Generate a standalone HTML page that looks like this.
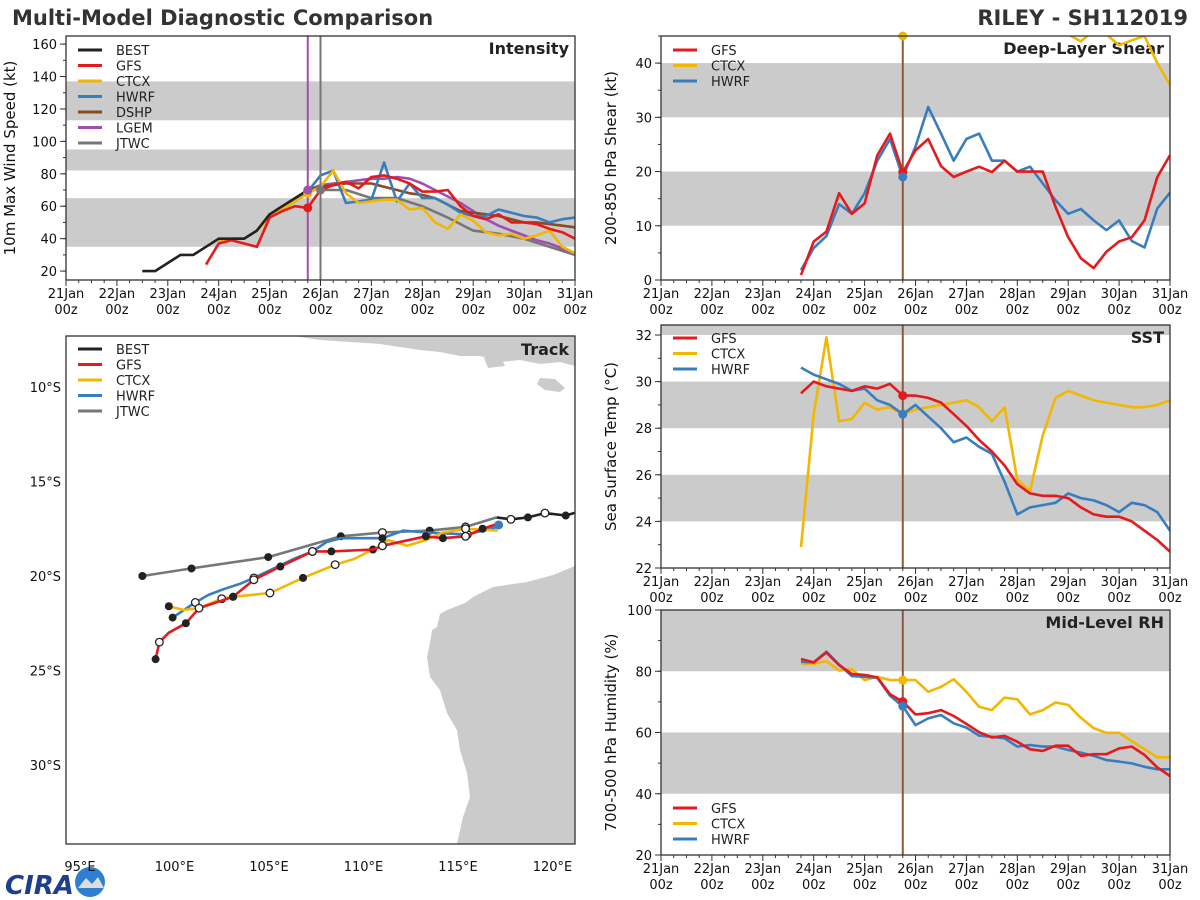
<!DOCTYPE html>
<html><head><meta charset="utf-8"><style>
html,body{margin:0;padding:0;background:#fff;}
svg{display:block;font-family:"DejaVu Sans","Liberation Sans",sans-serif;}
</style></head><body>
<svg id="chart" width="1200" height="900" viewBox="0 0 1200 900" xmlns="http://www.w3.org/2000/svg">
<text x="12" y="25" font-size="21" font-weight="bold" fill="#333">Multi-Model Diagnostic Comparison</text>
<text x="1188" y="25" font-size="21" font-weight="bold" fill="#333" text-anchor="end">RILEY - SH112019</text>
<g>
<text x="5" y="894" font-size="26" font-weight="bold" fill="#1e3f8a" font-style="italic">CIRA</text>
<circle cx="90" cy="882" r="15" fill="#2f7fd0"/>
<path d="M78 888 L86 878 L92 884 L98 877 L104 888 Z" fill="#ddd"/>
</g>
<g id="plots"></g>
</svg>
<script>
// ---------- DATA ----------
var intBestStart = 36;
var intBest = [20,20,25,30,30,35,40,40,40,45,55,60,65,70];
var intGfsStart = 66;
var intGfs = [24,37,39,37,35,53,57,60,59,70,73,75,71,78,79,77,74,69,69,70,60,54,52,55,50,50,49,46,44,40];
var intCtcxStart = 72;
var intCtcx = [38,40,40,45,53,58,63,68,72,82,68,62,63,64,64,58,59,50,46,55,51,44,42,43,40,42,45,35,31];
var intHwrfStart = 72;
var intHwrf = [38,40,40,45,54,58,63,69,79,82,62,63,64,87,63,74,65,65,61,56,54,54,58,56,54,53,50,52,53];
var intDshpStart = 114;
var intDshp = [70,72,73,74,74,74,72,70,68,67,65,61,57,56,55,54,52,50,50,49,48,47];
var intLgemStart = 114;
var intLgem = [70,73,74,75,76,77,77,78,77,74,70,66,62,57,52,48,45,42,39,37,34,31];
var intJtwcTimes = [120,132,144,156,168,180,192,204,216,240];
var intJtwc = [70,70,65,65,60,53,45,43,40,30];

var diagStart = 66;
var shearGfs = [0.9,7.1,8.9,16,12.2,14.1,23,27,19.9,23.9,26,21,19,20,20.9,19.9,22,20,20,20,13.5,7.9,4,2.2,5.2,7.1,7.9,11,19,23];
var shearHwrf = [1.8,5.9,8.1,14,12.2,16,22,26,19,24.6,31.9,27,22,26,27,22,22,20,20.9,17.8,14.7,12.2,13.1,11,9.2,11,7.2,6,13.2,16.1];
var shearCtcx = [55,58,60,57,55,53,52,50,45,50,55,58,60,62,60,58,55,53,50,48,47,45.3,44,46,45.3,43.3,44.2,45,40,36];
var sstGfs = [29.5,30.0,29.8,29.7,29.6,29.8,29.7,29.9,29.4,29.4,29.3,29.1,28.6,28.1,27.5,27.0,26.4,25.6,25.2,25.1,25.1,25.0,24.6,24.3,24.2,24.2,24.0,23.6,23.2,22.7];
var sstHwrf = [30.6,30.3,30.1,29.9,29.6,29.7,29.2,29.0,28.6,29.0,28.5,28.0,27.4,27.6,27.2,26.9,25.7,24.3,24.6,24.7,24.8,25.2,25.0,24.9,24.7,24.4,24.8,24.7,24.4,23.6];
var sstCtcx = [22.9,28.6,31.9,28.3,28.4,29.1,28.8,28.9,28.6,28.8,28.9,29.0,29.1,29.2,28.9,28.3,28.9,25.8,25.3,27.7,29.3,29.6,29.4,29.2,29.1,29.0,28.9,28.9,29.0,29.2];
var rhGfs = [84,82.9,86.1,82,79.1,78.8,78,72.5,70.1,65.9,66.3,67.3,65.4,62.8,60.1,58.4,58.9,57,54.5,54,55.7,55.7,52.4,52.9,52.9,54.8,55.4,52.7,48.6,45.8];
var rhHwrf = [83.1,82.9,86.4,82.2,78.4,78.2,77.9,72,68.6,62.4,64.6,65.7,63,61.6,59,58.6,58.1,55.4,55.9,55.4,55.4,54.3,53.4,52.4,51,50.5,49.9,48.8,48,48];
var rhCtcx = [82.4,82.4,83.3,80.2,80.7,77.1,78.2,77.1,77.1,77.1,73.3,74.9,77.4,73.3,68.4,67.3,71.4,70.8,65.9,67.3,69.8,69,64.8,61.4,59.9,59.9,57.2,54.5,51.9,51.9];

var trkBestLon = [117.05,117.8,118.7,119.6,120.7,121.2];
var trkBestLat = [-16.9,-17.0,-16.9,-16.67,-16.8,-16.65];
var trkJtwcLon = [117.05,115.4,113.5,111.0,108.8,104.96,100.9,98.3];
var trkJtwcLat = [-16.9,-17.4,-17.6,-17.7,-17.9,-19.0,-19.6,-20.0];
var trkGfsLon = [117.2,116.3,115.4,114.2,113.3,111.0,110.5,108.3,107.3,105.6,104.2,103.1,101.3,100.6,99.7,99.2,99.0];
var trkGfsLat = [-17.2,-17.5,-17.9,-18.0,-17.9,-18.4,-18.6,-18.7,-18.7,-19.5,-20.2,-21.1,-21.7,-22.5,-23.0,-23.5,-24.4];
var trkHwrfLon = [117.1,115.5,113.3,112.1,111.0,108.8,108.05,107.3,106.3,104.2,103.5,102.6,101.8,101.1,99.9];
var trkHwrfLat = [-17.4,-17.8,-17.7,-17.6,-18.0,-18.0,-18.2,-18.7,-19.1,-20.1,-20.4,-20.7,-21.0,-21.4,-22.2];
var trkCtcxLon = [117.1,115.4,114.2,113.3,112.3,111.3,111.0,110.5,109.5,108.5,106.8,105.05,103.1,102.5,101.3,100.5,99.7];
var trkCtcxLat = [-17.6,-17.5,-17.7,-18.1,-18.4,-18.1,-18.4,-18.6,-19.1,-19.4,-20.1,-20.9,-21.1,-21.2,-21.7,-21.8,-21.6];

var dayLabels = ["21Jan","22Jan","23Jan","24Jan","25Jan","26Jan","27Jan","28Jan","29Jan","30Jan","31Jan"];
var lonTicks = [95,100,105,110,115,120];
var latTicks = [-10,-15,-20,-25,-30];

// ---------- RENDER ----------
var NS="http://www.w3.org/2000/svg";
var root=document.getElementById('plots');
function mk(tag,attrs,parent){var e=document.createElementNS(NS,tag);for(var k in attrs)e.setAttribute(k,attrs[k]);(parent||root).appendChild(e);return e;}
var C={BEST:"#222222",GFS:"#e41a1c",CTCX:"#f2b701",HWRF:"#3a7dbf",DSHP:"#8b4a23",LGEM:"#a04eb0",JTWC:"#777777"};

function panel(name,x0,y0,x1,y1,vmin,vmax,bands,ticks,minorStep,ylabel,title,labOff){
  var g=mk('g',{});
  
  
  var sy=function(v){return y1-(v-vmin)/(vmax-vmin)*(y1-y0);};
  var sx=function(h){return x0+h/240*(x1-x0);};
  var clipId='clip-'+name;
  var cp=mk('clipPath',{id:clipId},g);mk('rect',{x:x0,y:y0,width:x1-x0,height:y1-y0},cp);
  bands.forEach(function(b){
    var r=mk('rect',{x:x0,y:Math.max(y0,sy(b[1])),width:x1-x0,height:Math.min(y1,sy(b[0]))-Math.max(y0,sy(b[1])),fill:'#cbcbcb'},g);
    
    
  });
  for(var i=0;i<=40;i++){var xx=sx(i*6);var big=i%4==0;mk('line',{x1:xx,x2:xx,y1:y1,y2:y1+(big?6:3),stroke:'#333','stroke-width':1},g);}
  dayLabels.forEach(function(d,i){
    var t=mk('text',{x:sx(i*24),y:y1+18,'font-size':13,'text-anchor':'middle',fill:'#111'},g);t.textContent=d;
    
    
    var t2=mk('text',{x:sx(i*24),y:y1+34,'font-size':13,'text-anchor':'middle',fill:'#111'},g);t2.textContent='00z';
    
    
  });
  for(var v=Math.ceil(vmin/minorStep)*minorStep;v<=vmax;v+=minorStep){mk('line',{x1:x0-3,x2:x0,y1:sy(v),y2:sy(v),stroke:'#333'},g);}
  ticks.forEach(function(v){
    mk('line',{x1:x0-6,x2:x0,y1:sy(v),y2:sy(v),stroke:'#333'},g);
    var t=mk('text',{x:x0-9,y:sy(v)+5,'font-size':13,'text-anchor':'end',fill:'#111'},g);t.textContent=v;
    
    
  });
  var yl=mk('text',{x:0,y:0,'font-size':15,'text-anchor':'middle',fill:'#111',transform:'translate('+(x0-labOff)+','+((y0+y1)/2)+') rotate(-90)'},g);yl.textContent=ylabel;
  
  
  var tt=mk('text',{x:x1-6,y:y0+18,'font-size':16,'font-weight':'bold','text-anchor':'end',fill:'#222'},g);tt.textContent=title;
  
  
  var plot=mk('g',{'clip-path':'url(#'+clipId+')'},g);
  return {g:g,plot:plot,sx:sx,sy:sy,x0:x0,y0:y0,x1:x1,y1:y1};
}
function frame(p){var r=mk('rect',{x:p.x0,y:p.y0,width:p.x1-p.x0,height:p.y1-p.y0,fill:'none',stroke:'#333','stroke-width':1.3},p.g);}
function series(p,name,start,vals,times){
  var pts=vals.map(function(v,i){var h=times?times[i]:start+i*6;return p.sx(h).toFixed(1)+','+p.sy(v).toFixed(1);});
  var pl=mk('polyline',{points:pts.join(' '),fill:'none',stroke:C[name],'stroke-width':2.6,'stroke-linejoin':'round'},p.plot);
  
  
}
function dot(p,name,h,v){var c=mk('circle',{cx:p.sx(h),cy:p.sy(v),r:4.5,fill:C[name]},p.g);}
function vline(p,h,col){var l=mk('line',{x1:p.sx(h),x2:p.sx(h),y1:p.y0,y2:p.y1,stroke:col,'stroke-width':2},p.g);}
function legend(p,names,x,y){
  names.forEach(function(n,i){
    var gg=mk('g',{},p.g);
    
    
    mk('line',{x1:x,x2:x+24,y1:y+i*15.5,y2:y+i*15.5,stroke:C[n],'stroke-width':3},gg);
    var t=mk('text',{x:x+38,y:y+i*15.5+5,'font-size':13,fill:'#222'},gg);t.textContent=n;
  });
}

var pi=panel('intensity',66,36,575,280,14.5,165,[[35,65],[82,95],[113,137]],[20,40,60,80,100,120,140,160],10,'10m Max Wind Speed (kt)','Intensity',51);
vline(pi,114,'#a04eb0');vline(pi,120,'#777');
series(pi,'JTWC',0,intJtwc,intJtwcTimes);
series(pi,'LGEM',intLgemStart,intLgem);
series(pi,'DSHP',intDshpStart,intDshp);
series(pi,'HWRF',intHwrfStart,intHwrf);
series(pi,'CTCX',intCtcxStart,intCtcx);
series(pi,'GFS',intGfsStart,intGfs);
series(pi,'BEST',intBestStart,intBest);
dot(pi,'GFS',114,intGfs[8]);dot(pi,'CTCX',114,intCtcx[7]);dot(pi,'LGEM',114,intLgem[0]);dot(pi,'JTWC',120,intJtwc[0]);
legend(pi,['BEST','GFS','CTCX','HWRF','DSHP','LGEM','JTWC'],78,50);
frame(pi);

var ps=panel('shear',661,36,1170,280,0,45,[[10,20],[30,40]],[0,10,20,30,40],5,'200-850 hPa Shear (kt)','Deep-Layer Shear',45);
vline(ps,114,'#8b5a3c');
series(ps,'CTCX',diagStart,shearCtcx);series(ps,'HWRF',diagStart,shearHwrf);series(ps,'GFS',diagStart,shearGfs);
dot(ps,'GFS',114,shearGfs[8]);dot(ps,'HWRF',114,shearHwrf[8]);dot(ps,'CTCX',114,45);
legend(ps,['GFS','CTCX','HWRF'],673,50);frame(ps);

var pt=panel('sst',661,325,1170,568,22,32.43,[[24,26],[28,30],[32,34]],[22,24,26,28,30,32],1,'Sea Surface Temp (°C)','SST',45);
vline(pt,114,'#8b5a3c');
series(pt,'CTCX',diagStart,sstCtcx);series(pt,'HWRF',diagStart,sstHwrf);series(pt,'GFS',diagStart,sstGfs);
dot(pt,'GFS',114,sstGfs[8]);dot(pt,'HWRF',114,sstHwrf[8]);
legend(pt,['GFS','CTCX','HWRF'],673,338);frame(pt);

var pr=panel('rh',661,610,1170,855,20,100,[[40,60],[80,100]],[20,40,60,80,100],10,'700-500 hPa Humidity (%)','Mid-Level RH',45);
vline(pr,114,'#8b5a3c');
series(pr,'CTCX',diagStart,rhCtcx);series(pr,'HWRF',diagStart,rhHwrf);series(pr,'GFS',diagStart,rhGfs);
dot(pr,'CTCX',114,rhCtcx[8]);dot(pr,'GFS',114,rhGfs[8]);dot(pr,'HWRF',114,rhHwrf[8]);
legend(pr,['GFS','CTCX','HWRF'],673,808);frame(pr);

(function(){
  var x0=66,y0=336,x1=575,y1=844;
  var g=mk('g',{});
  
  
  var lx=function(lon){return 80+(lon-95)*18.9;};
  var ly=function(lat){return 387+(-lat-10)*18.9;};
  var cp=mk('clipPath',{id:'clip-trk'},g);mk('rect',{x:x0,y:y0,width:x1-x0,height:y1-y0},cp);
  var m=mk('g',{'clip-path':'url(#clip-trk)'},g);
  var aus=mk('path',{d:'M575 566 L553 575 L527 582 L493 587 L473 597 L465 603 L447 610 L440 614 L437 627 L432 630 L430 643 L427 657 L430 677 L440 690 L447 713 L457 730 L460 750 L467 773 L470 797 L463 817 L457 844 L575 844 Z',fill:'#cbcbcb'},m);
  
  
  var indo=mk('path',{d:'M293 336 L575 336 L575 366 L560 362 L540 364 L520 360 L500 362 L480 356 L460 356 L440 352 L420 350 L400 347 L380 344 L350 342 L320 340 Z M540 378 L555 379 L565 388 L560 392 L545 390 L537 384 Z M484 358 L500 356 L505 366 L488 368 Z',fill:'#cbcbcb'},m);
  
  
  function trk(name,lons,lats,filled,open){
    var pts=lons.map(function(l,i){return lx(l).toFixed(1)+','+ly(lats[i]).toFixed(1);});
    var pl=mk('polyline',{points:pts.join(' '),fill:'none',stroke:C[name],'stroke-width':2.6,'stroke-linejoin':'round'},m);
    
    
    filled.forEach(function(i){var c=mk('circle',{cx:lx(lons[i]),cy:ly(lats[i]),r:4,fill:'#222'},m);});
    open.forEach(function(i){var c=mk('circle',{cx:lx(lons[i]),cy:ly(lats[i]),r:3.8,fill:'#fff',stroke:'#222','stroke-width':1.3},m);});
  }
  trk('JTWC',trkJtwcLon,trkJtwcLat,[2,4,5,6,7],[1,3]);
  trk('HWRF',trkHwrfLon,trkHwrfLat,[4,14],[1,7,9,13]);
  trk('CTCX',trkCtcxLon,trkCtcxLat,[7,10,12,16],[1,6,9,11,13]);
  trk('GFS',trkGfsLon,trkGfsLat,[1,3,4,7,9,11,13,16],[2,5,8,10,12,15]);
  trk('BEST',trkBestLon,trkBestLat,[2,4],[1,3]);
  var lt=mk('circle',{cx:lx(117.15),cy:ly(-17.3),r:4.5,fill:C.HWRF},m);
  
  
  var tt=mk('text',{x:x1-6,y:y0+19,'font-size':16,'font-weight':'bold','text-anchor':'end',fill:'#222'},g);tt.textContent='Track';
  
  
  var fakeP={g:g};
  legend(fakeP,['BEST','GFS','CTCX','HWRF','JTWC'],78,349);
  lonTicks.forEach(function(l){
    var t=mk('text',{x:lx(l),y:871,'font-size':13,'text-anchor':'middle',fill:'#111'},g);t.textContent=l+'°E';
    
    
  });
  latTicks.forEach(function(l){
    var t=mk('text',{x:61,y:ly(l)+5,'font-size':13,'text-anchor':'end',fill:'#111'},g);t.textContent=(-l)+'°S';
    
    
  });
  var fr=mk('rect',{x:x0,y:y0,width:x1-x0,height:y1-y0,fill:'none',stroke:'#333','stroke-width':1.3},g);
  
  
})();
</script>
</body></html>
